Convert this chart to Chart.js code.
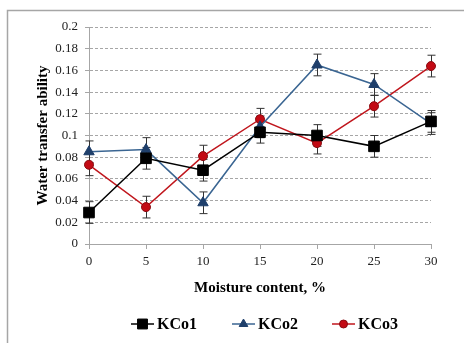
<!DOCTYPE html>
<html>
<head>
<meta charset="utf-8">
<script src="https://cdn.jsdelivr.net/npm/chart.js@4/dist/chart.umd.min.js"></script>
<style>
  html, body { margin: 0; padding: 0; background: #fff; }
  #wrap { position: relative; width: 464px; height: 343px; }
</style>
</head>
<body>
<div id="wrap"><canvas id="chart" width="464" height="343"></canvas></div>
<script>
// moisture content, %
const moisture = [0, 5, 10, 15, 20, 25, 30];
const yTicks = [0, 0.02, 0.04, 0.06, 0.08, 0.1, 0.12, 0.14, 0.16, 0.18, 0.2];

const kco1 = [0.029, 0.079, 0.068, 0.103, 0.100, 0.090, 0.113];
const kco2 = [0.085, 0.087, 0.038, 0.108, 0.165, 0.147, 0.111];
const kco3 = [0.073, 0.034, 0.081, 0.115, 0.093, 0.127, 0.164];

// error bar half-widths
const kco1Err = [0.01, 0.01, 0.01, 0.01, 0.01, 0.01, 0.01];
const kco2Err = [0.01, 0.011, 0.01, 0.01, 0.01, 0.01, 0.01];
const kco3Err = [0.01, 0.01, 0.01, 0.01, 0.01, 0.01, 0.01];

const toPoints = (vals) => vals.map((v, i) => ({ x: moisture[i], y: v }));

const SERIF = '"Liberation Serif", "Times New Roman", serif';

const errorBars = {
  id: 'errorBars',
  beforeDatasetsDraw(chart) {
    const { ctx, scales } = chart;
    ctx.save();
    ctx.strokeStyle = '#333';
    ctx.lineWidth = 1;
    chart.data.datasets.forEach((ds) => {
      ds.data.forEach((p, i) => {
        const e = ds.errors[i];
        const x = Math.round(scales.x.getPixelForValue(p.x)) + 0.5;
        const y1 = scales.y.getPixelForValue(p.y + e);
        const y2 = scales.y.getPixelForValue(p.y - e);
        ctx.beginPath();
        ctx.moveTo(x, y1); ctx.lineTo(x, y2);
        ctx.moveTo(x - 4, y1); ctx.lineTo(x + 4, y1);
        ctx.moveTo(x - 4, y2); ctx.lineTo(x + 4, y2);
        ctx.stroke();
      });
    });
    ctx.restore();
  }
};

const frame = {
  id: 'frame',
  beforeDraw(chart) {
    const ctx = chart.ctx;
    ctx.save();
    ctx.strokeStyle = '#a6a6a6';
    ctx.lineWidth = 1.5;
    ctx.beginPath();
    ctx.moveTo(7.5, 343);
    ctx.lineTo(7.5, 10.5);
    ctx.lineTo(464, 10.5);
    ctx.stroke();
    ctx.restore();
  }
};

const lineLegend = {
  id: 'lineLegend',
  afterDraw(chart) {
    const ctx = chart.ctx;
    const y = 324;
    const starts = [131, 232, 332];
    ctx.save();
    ctx.font = 'bold 16px ' + SERIF;
    ctx.textBaseline = 'middle';
    chart.data.datasets.forEach((ds, i) => {
      const x0 = starts[i];
      ctx.strokeStyle = ds.borderColor;
      ctx.lineWidth = 1.5;
      ctx.beginPath();
      ctx.moveTo(x0, y); ctx.lineTo(x0 + 23, y);
      ctx.stroke();
      ctx.fillStyle = ds.pointBackgroundColor;
      ctx.strokeStyle = ds.pointBorderColor;
      ctx.lineWidth = 1;
      Chart.helpers.drawPoint(ctx, { pointStyle: ds.pointStyle, radius: ds.legendRadius, rotation: 0, borderWidth: 1 }, x0 + 11.5, y);
      ctx.fillStyle = '#000';
      ctx.fillText(ds.label, x0 + 26, y + 1);
    });
    ctx.restore();
  }
};

new Chart(document.getElementById('chart'), {
  type: 'line',
  data: {
    datasets: [
      {
        label: 'KCo1',
        data: toPoints(kco1),
        errors: kco1Err,
        borderColor: '#000000',
        backgroundColor: '#000000',
        pointBackgroundColor: '#000000',
        pointBorderColor: '#000000',
        pointStyle: 'rect',
        pointRadius: 7.5,
        legendRadius: 7,
        clip: false
      },
      {
        label: 'KCo2',
        data: toPoints(kco2),
        errors: kco2Err,
        borderColor: '#3a6592',
        backgroundColor: '#1f3f6b',
        pointBackgroundColor: '#1f3f6b',
        pointBorderColor: '#1f3f6b',
        pointStyle: 'triangle',
        pointRadius: 6,
        legendRadius: 5,
        clip: false
      },
      {
        label: 'KCo3',
        data: toPoints(kco3),
        errors: kco3Err,
        borderColor: '#c0161d',
        backgroundColor: '#c00000',
        pointBackgroundColor: '#c30a14',
        pointBorderColor: '#8a0a10',
        pointStyle: 'circle',
        pointRadius: 4.5,
        legendRadius: 4,
        clip: false
      }
    ]
  },
  options: {
    responsive: false,
    animation: false,
    devicePixelRatio: 1,
    layout: { padding: { left: 34, top: 27, right: 33, bottom: 46 } },
    elements: {
      line: { borderWidth: 1.5, tension: 0 },
      point: { borderWidth: 1 }
    },
    plugins: {
      legend: { display: false },
      tooltip: { enabled: false }
    },
    scales: {
      x: {
        type: 'linear',
        min: 0,
        max: 30,
        afterFit(scale) { scale.height = 53; },
        ticks: {
          stepSize: 5,
          padding: 5,
          color: '#222',
          font: { family: SERIF, size: 13 }
        },
        grid: { drawOnChartArea: false, tickLength: 5, color: '#a6a6a6' },
        border: { color: '#a6a6a6', width: 1 },
        title: {
          display: true,
          text: 'Moisture content, %',
          color: '#000',
          padding: { top: 0, bottom: 0 },
          font: { family: SERIF, size: 15, weight: 'bold' }
        }
      },
      y: {
        min: 0,
        max: 0.2,
        afterFit(scale) { scale.width = 55; },
        afterBuildTicks(scale) { scale.ticks = yTicks.map((v) => ({ value: v })); },
        ticks: {
          padding: 7,
          color: '#222',
          font: { family: SERIF, size: 13 },
          callback: (v) => String(+v.toFixed(2))
        },
        grid: { color: '#a6a6a6', tickLength: 4, lineWidth: 1 },
        border: { color: '#a6a6a6', width: 1, dash: [3, 2] },
        title: {
          display: true,
          text: 'Water transfer ability',
          color: '#000',
          padding: { top: 0, bottom: 0 },
          font: { family: SERIF, size: 15, weight: 'bold' }
        }
      }
    }
  },
  plugins: [frame, errorBars, lineLegend]
});
</script>
</body>
</html>
